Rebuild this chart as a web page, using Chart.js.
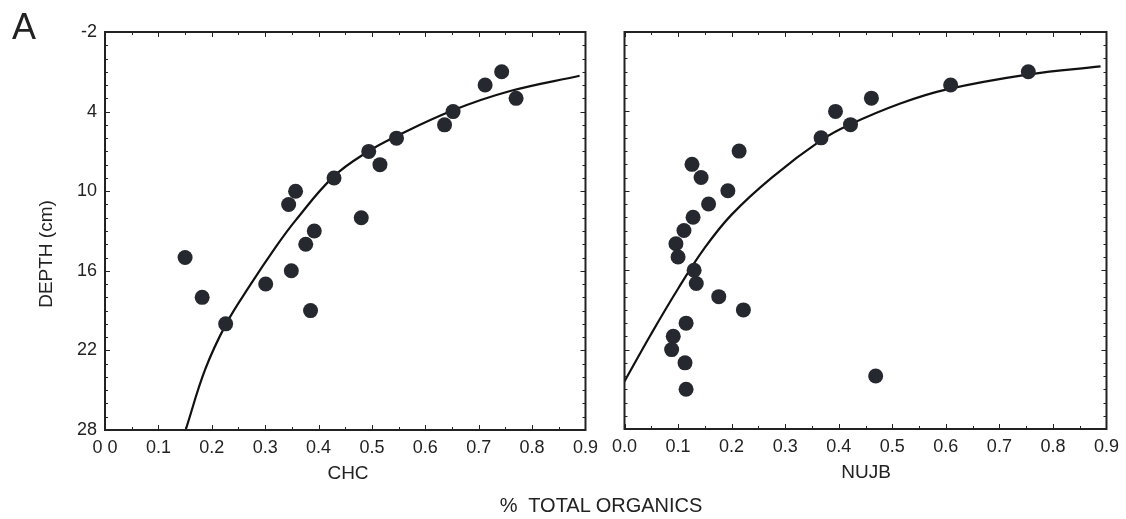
<!DOCTYPE html>
<html>
<head>
<meta charset="utf-8">
<script src="https://cdn.jsdelivr.net/npm/chart.js@4.4.1/dist/chart.umd.min.js"></script>
<style>
  body { margin: 0; background: #fff; width: 1126px; height: 519px; position: relative; overflow: hidden;
         font-family: 'Liberation Sans', Arial, sans-serif; color: #222; }
  canvas { position: absolute; top: 0; }
  #chcChart { left: 0; }
  #nujbChart { left: 605px; }
  .lbl { position: absolute; white-space: nowrap; transform: translate(-50%, -50%); line-height: 1; }
</style>
</head>
<body>
<canvas id="chcChart" width="605" height="519"></canvas>
<canvas id="nujbChart" width="521" height="519"></canvas>

<div class="lbl" style="left:24px; top:27px; font-size:36px;">A</div>
<div class="lbl" style="left:45px; top:254px; font-size:19px; transform: translate(-50%, -50%) rotate(-90deg);">DEPTH (cm)</div>
<div class="lbl" style="left:348px; top:472px; font-size:19px;">CHC</div>
<div class="lbl" style="left:866px; top:471px; font-size:19px;">NUJB</div>
<div class="lbl" style="left:601px; top:505px; font-size:20px;">%&nbsp; TOTAL ORGANICS</div>

<script>
// tick labels
const depthTicks = [-2, 4, 10, 16, 22, 28];
const depthLabels = ['-2', '4', '10', '16', '22', '28'];
const chcXLabels = ['0 0', '0.1', '0.2', '0.3', '0.4', '0.5', '0.6', '0.7', '0.8', '0.9'];
const nujbXLabels = ['0.0', '0.1', '0.2', '0.3', '0.4', '0.5', '0.6', '0.7', '0.8', '0.9'];

// CHC core: % total organics by depth (cm)
const chcDepth = [1, 2, 3, 4, 5, 6, 7, 8, 9, 10, 11, 12, 13, 14, 15, 16, 17, 18, 19, 20];
const chcOrganics = [0.743, 0.712, 0.770, 0.652, 0.636, 0.546, 0.494, 0.515, 0.429, 0.357,
                     0.344, 0.480, 0.392, 0.376, 0.150, 0.349, 0.301, 0.182, 0.385, 0.226];
// fitted curve
const chcFitOrganics = [0.151, 0.188, 0.227, 0.270, 0.320, 0.357, 0.428, 0.493, 0.546, 0.652, 0.759, 0.889];
const chcFitDepth = [28.0, 23.4, 20.0, 17.2, 14.2, 12.2, 8.9, 7.0, 5.85, 3.9, 2.45, 1.3];

// NUJB core
const nujbDepth = [1, 2, 3, 4, 5, 6, 7, 8, 9, 10, 11, 12, 13, 14, 15, 16, 17, 18, 19, 20, 21, 22, 23, 24, 25];
const nujbOrganics = [0.754, 0.609, 0.461, 0.394, 0.422, 0.367, 0.214, 0.126, 0.143, 0.193, 0.157, 0.128, 0.111,
                      0.096, 0.100, 0.130, 0.134, 0.176, 0.222, 0.115, 0.091, 0.088, 0.113, 0.469, 0.115];
const nujbFitOrganics = [0.0, 0.05, 0.10, 0.15, 0.20, 0.275, 0.37, 0.42, 0.515, 0.60, 0.755, 0.889];
const nujbFitDepth = [24.4, 20.8, 17.4, 14.3, 11.8, 9.0, 6.1, 5.0, 3.4, 2.35, 1.2, 0.6];

const INK = '#222';

// caixa fechada com marcas para dentro
const framePlugin = {
    id: 'frame',
    afterDatasetsDraw(chart) {
        const { ctx, chartArea: a, scales: { x, y } } = chart;
        ctx.save();
        ctx.strokeStyle = INK;
        ctx.lineWidth = 1;
        ctx.beginPath();
        for (let v = 0; v <= 0.9001; v += 0.05) {
            const px = Math.round(x.getPixelForValue(v)) + 0.5;
            const len = Math.abs(v * 10 - Math.round(v * 10)) < 0.01 ? 5 : 3;
            ctx.moveTo(px, a.bottom); ctx.lineTo(px, a.bottom - len);
            ctx.moveTo(px, a.top); ctx.lineTo(px, a.top + len);
        }
        for (let d = -2; d <= 28; d += 1) {
            const py = Math.round(y.getPixelForValue(d)) + 0.5;
            const len = (d + 2) % 6 === 0 ? 5 : 3;
            ctx.moveTo(a.left, py); ctx.lineTo(a.left + len, py);
            ctx.moveTo(a.right, py); ctx.lineTo(a.right - len, py);
        }
        ctx.stroke();
        ctx.lineWidth = 2;
        ctx.strokeRect(a.left, a.top, a.right - a.left, a.bottom - a.top);
        ctx.restore();
    }
};

function makePanel(id, organics, depth, fitX, fitY, xLabels, showY, pad) {
    const points = organics.map((v, i) => ({ x: v, y: depth[i] }));
    const fit = fitX.map((v, i) => ({ x: v, y: fitY[i] }));
    return new Chart(document.getElementById(id), {
        type: 'scatter',
        data: {
            datasets: [{
                data: points,
                pointRadius: 7.5,
                pointBackgroundColor: '#25282e',
                pointBorderColor: '#25282e',
                pointBorderWidth: 0
            }, {
                data: fit,
                showLine: true,
                pointRadius: 0,
                borderColor: '#111',
                borderWidth: 2.2,
                tension: 0.4,
                fill: false
            }]
        },
        options: {
            responsive: false,
            animation: false,
            devicePixelRatio: 1,
            layout: { padding: pad },
            plugins: { legend: { display: false }, tooltip: { enabled: false } },
            scales: {
                x: {
                    type: 'linear',
                    min: 0,
                    max: 0.9,
                    grid: { display: false, drawTicks: false },
                    border: { display: false },
                    afterFit: s => { s.height = 30; },
                    ticks: {
                        stepSize: 0.1,
                        padding: 7,
                        maxRotation: 0,
                        autoSkip: false,
                        color: INK,
                        font: { family: "'Liberation Sans', Arial, sans-serif", size: 18 },
                        callback: (v, i) => xLabels[i]
                    }
                },
                y: {
                    type: 'linear',
                    min: -2,
                    max: 28,
                    reverse: true,
                    grid: { display: false, drawTicks: false },
                    border: { display: false },
                    afterFit: s => { s.width = showY ? 50 : 10; },
                    ticks: {
                        display: showY,
                        stepSize: 6,
                        padding: 8,
                        color: INK,
                        font: { family: "'Liberation Sans', Arial, sans-serif", size: 18 },
                        callback: v => depthLabels[depthTicks.indexOf(Math.round(v))]
                    }
                }
            }
        },
        plugins: [framePlugin]
    });
}

makePanel('chcChart', chcOrganics, chcDepth, chcFitOrganics, chcFitDepth, chcXLabels, true,
    { left: 55, top: 32, right: 16, bottom: 59 });
makePanel('nujbChart', nujbOrganics, nujbDepth, nujbFitOrganics, nujbFitDepth, nujbXLabels, false,
    { left: 7, top: 32, right: 18, bottom: 60 });
</script>
</body>
</html>
